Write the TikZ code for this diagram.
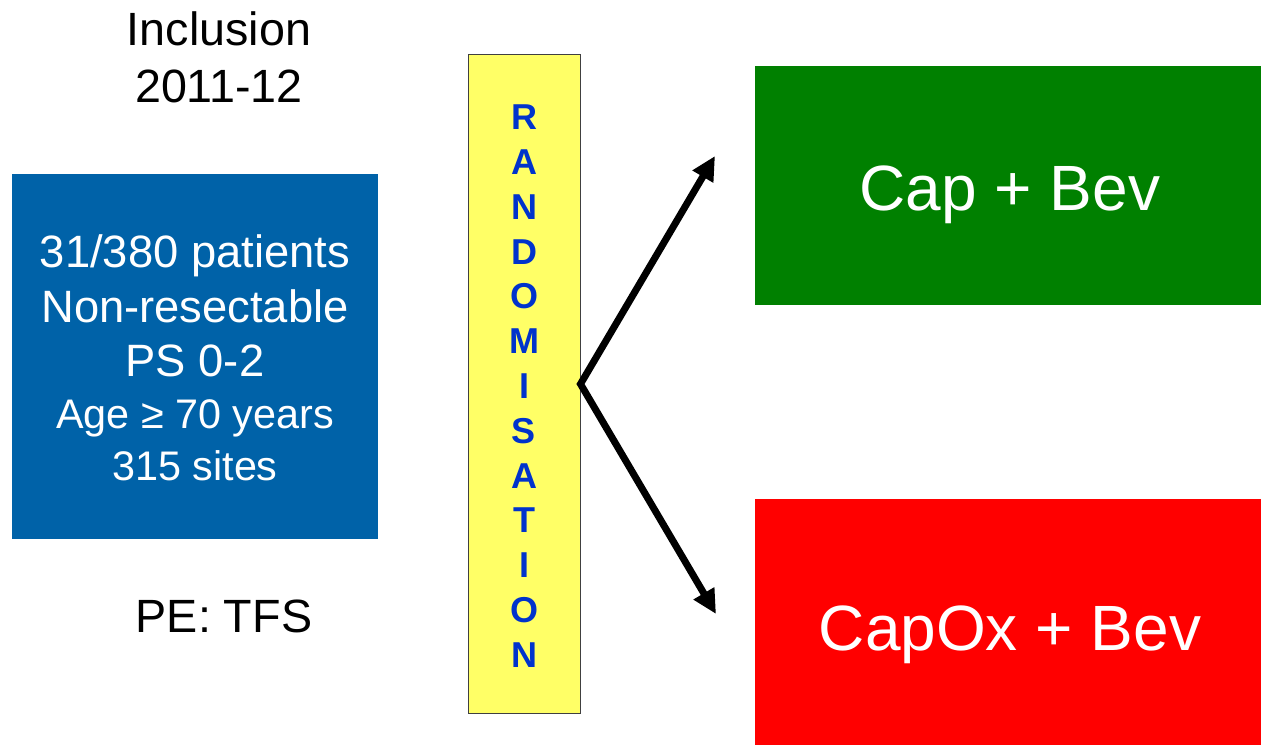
\documentclass[tikz,border=0pt]{standalone}
\usepackage{fontspec}
\setmainfont{Liberation Sans}
\usetikzlibrary{arrows.meta}
\definecolor{boxblue}{RGB}{0,98,168}
\definecolor{boxgreen}{RGB}{0,128,0}
\definecolor{boxred}{RGB}{255,0,0}
\definecolor{randyellow}{RGB}{255,255,102}
\definecolor{randblue}{RGB}{0,51,204}
\newcommand\myfs[1]{\fontsize{#1}{#1}\selectfont}
\tikzset{
  filledbox/.style={rectangle, inner sep=0pt, draw=none},
  plaintext/.style={inner sep=0pt, anchor=base},
  whitetext/.style={plaintext, text=white},
  randletter/.style={inner sep=0pt, anchor=base, text=randblue, font=\myfs{27}\bfseries},
  splitarrow/.style={line width=5.25pt, line join=miter,
    {Triangle[length=18pt,width=17pt]}-{Triangle[length=18pt,width=17pt]}}
}
\begin{document}
\begin{tikzpicture}[x=0.75pt,y=-0.75pt]
\useasboundingbox[fill=white] (0,0) rectangle (1261,745);

% boxes
\node[filledbox, fill=boxblue, minimum width=274.5pt, minimum height=273.75pt] (incl) at (195,356.5) {};
\node[filledbox, fill=randyellow, draw=black!75, line width=0.75pt, minimum width=84pt, minimum height=493.5pt] (rand) at (524,384) {};
\node[filledbox, fill=boxgreen, minimum width=379.5pt, minimum height=179.25pt] (armA) at (1008,185.5) {};
\node[filledbox, fill=boxred, minimum width=379.5pt, minimum height=184.5pt] (armB) at (1008,622) {};

% header texts
\node[plaintext, font=\myfs{35}] (inclA) at (219,46) {Inclusion};
\node[plaintext, font=\myfs{35}] (inclB) at (219,103) {2011-12};
\node[plaintext, font=\myfs{35}] (pe) at (224,632) {PE: TFS};

% blue box texts
\node[whitetext, font=\myfs{34}] (l1) at (195,268) {31/380 patients};
\node[whitetext, font=\myfs{34}] (l2) at (195,323) {Non-resectable};
\node[whitetext, font=\myfs{34}] (l3) at (195,377) {PS 0-2};
\node[whitetext, font=\myfs{31}] (l4) at (195,428) {Age ≥ 70 years};
\node[whitetext, font=\myfs{31}] (l5) at (195,480) {315 sites};

% randomisation letters
\foreach \ch [count=\i from 0] in {R,A,N,D,O,M,I,S,A,T,I,O,N} {
  \node[randletter] (r\i) at (524,{130+44.75*\i}) {\ch};
}

% arm texts
\node[whitetext, font=\myfs{48}] (armAt) at (1010,211) {Cap + Bev};
\node[whitetext, font=\myfs{48}] (armBt) at (1010,650) {CapOx + Bev};

% arrows
\coordinate (tipU) at (715,156);
\coordinate (tipL) at (716,614);
\draw[splitarrow] (tipU) -- (rand.east) -- (tipL);
\end{tikzpicture}
\end{document}
